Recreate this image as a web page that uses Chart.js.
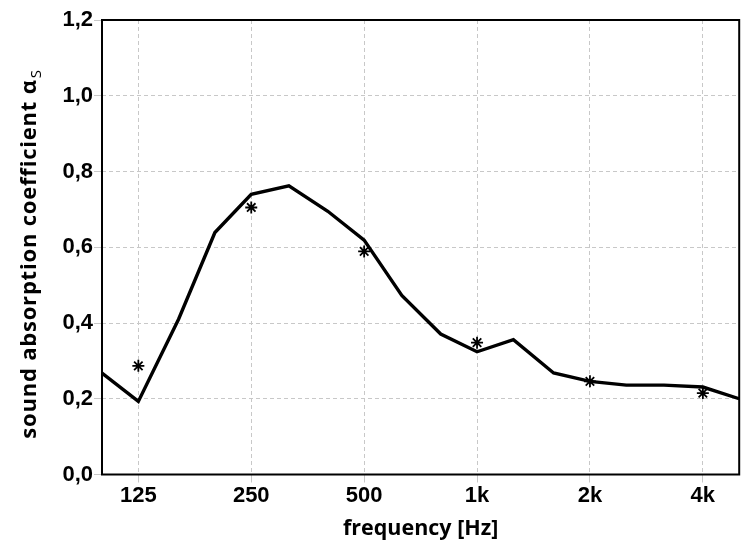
<!DOCTYPE html>
<html>
<head>
<meta charset="utf-8">
<script src="https://cdn.jsdelivr.net/npm/chart.js@4.4.0/dist/chart.umd.min.js"></script>
<style>
  html, body { margin: 0; padding: 0; background: #fff; }
  #wrap { width: 747px; height: 549px; position: relative; }
</style>
</head>
<body>
<div id="wrap"><canvas id="c" width="747" height="549"></canvas></div>
<script>
// third-octave band centre frequencies and measured curve
const freqs = [100, 125, 160, 200, 250, 315, 400, 500, 630, 800, 1000, 1250, 1600, 2000, 2500, 3150, 4000, 5000];
const alpha = [0.268, 0.193, 0.41, 0.639, 0.740, 0.762, 0.695, 0.619, 0.473, 0.371, 0.324, 0.356, 0.268, 0.246, 0.236, 0.236, 0.231, 0.200];
// octave band values (star markers)
const octaveFreqs = [125, 250, 500, 1000, 2000, 4000];
const octaveAlpha = [0.287, 0.705, 0.589, 0.348, 0.246, 0.215];
// tick labels
const xTickValues = [125, 250, 500, 1000, 2000, 4000];
const xTickLabels = ['125', '250', '500', '1k', '2k', '4k'];
const yTicks = [0, 0.2, 0.4, 0.6, 0.8, 1.0, 1.2];

const xTitle = 'frequency [Hz]';
const yTitleMain = 'sound absorption coefficient α';
const yTitleSub = 'S';

const XTITLE_FONT = 'bold 21.5px "Open Sans", "Noto Sans", sans-serif';
const YTITLE_FONT = 'bold 22px "Open Sans", "Noto Sans", sans-serif';
const SUB_FONT = '15px "Open Sans", "Noto Sans", sans-serif';

const titlePlugin = {
  id: 'titles',
  afterDraw(chart) {
    const ctx = chart.ctx;
    const area = chart.chartArea;
    ctx.save();
    // plot frame
    ctx.strokeStyle = '#000';
    ctx.lineWidth = 2;
    ctx.strokeRect(area.left, area.top, area.right - area.left, area.bottom - area.top);
    // x title
    ctx.fillStyle = '#000';
    ctx.font = XTITLE_FONT;
    ctx.textAlign = 'center';
    ctx.textBaseline = 'alphabetic';
    ctx.fillText(xTitle, (area.left + area.right) / 2, 535);
    // y title, rotated
    ctx.translate(36, 254);
    ctx.rotate(-Math.PI / 2);
    if ('letterSpacing' in ctx) ctx.letterSpacing = '0.8px';
    ctx.font = YTITLE_FONT;
    const mainW = ctx.measureText(yTitleMain).width;
    ctx.font = SUB_FONT;
    const subW = ctx.measureText(yTitleSub).width;
    const total = mainW + subW + 1;
    ctx.textAlign = 'left';
    ctx.font = YTITLE_FONT;
    ctx.fillText(yTitleMain, -total / 2, 0);
    ctx.font = SUB_FONT;
    ctx.fillText(yTitleSub, -total / 2 + mainW + 1, 5);
    ctx.restore();
  }
};

const tickFont = { family: '"Liberation Sans", Arial, sans-serif', weight: 'bold', size: 22 };

new Chart(document.getElementById('c'), {
  type: 'line',
  data: {
    datasets: [
      {
        label: 'third-octave',
        data: freqs.map((f, i) => ({ x: f, y: alpha[i] })),
        borderColor: '#000',
        borderWidth: 3.4,
        pointRadius: 0,
        tension: 0,
        fill: false
      },
      {
        label: 'octave',
        data: octaveFreqs.map((f, i) => ({ x: f, y: octaveAlpha[i] })),
        showLine: false,
        pointStyle: 'star',
        pointRadius: 6,
        borderColor: '#000',
        backgroundColor: '#000',
        pointBorderWidth: 1.8
      }
    ]
  },
  options: {
    responsive: false,
    animation: false,
    devicePixelRatio: 1,
    layout: { padding: { top: 20, right: 3, left: 0, bottom: 0 } },
    plugins: { legend: { display: false }, tooltip: { enabled: false } },
    scales: {
      x: {
        type: 'logarithmic',
        min: 100,
        max: 5000,
        afterBuildTicks(scale) {
          scale.ticks = xTickValues.map(v => ({ value: v }));
        },
        afterFit(scale) { scale.height = 74.5; },
        border: { display: false, dash: [4, 3] },
        grid: {
          color: '#c8c8c8',
          lineWidth: 1,
          tickLength: 8,
          tickColor: '#c8c8c8',
          drawTicks: true
        },
        ticks: {
          autoSkip: false,
          maxRotation: 0,
          padding: 0,
          color: '#000',
          font: tickFont,
          callback(value) {
            const i = xTickValues.indexOf(value);
            return i >= 0 ? xTickLabels[i] : '';
          }
        }
      },
      y: {
        type: 'linear',
        min: 0,
        max: 1.2,
        afterBuildTicks(scale) {
          scale.ticks = yTicks.map(v => ({ value: v }));
        },
        afterFit(scale) { scale.width = 102; },
        border: { display: false, dash: [4, 3] },
        grid: {
          color: '#c8c8c8',
          lineWidth: 1,
          tickLength: 8,
          tickColor: '#c8c8c8'
        },
        ticks: {
          padding: 1,
          color: '#000',
          font: tickFont,
          callback(value) { return value.toFixed(1).replace('.', ','); }
        }
      }
    }
  },
  plugins: [titlePlugin]
});
</script>
</body>
</html>
